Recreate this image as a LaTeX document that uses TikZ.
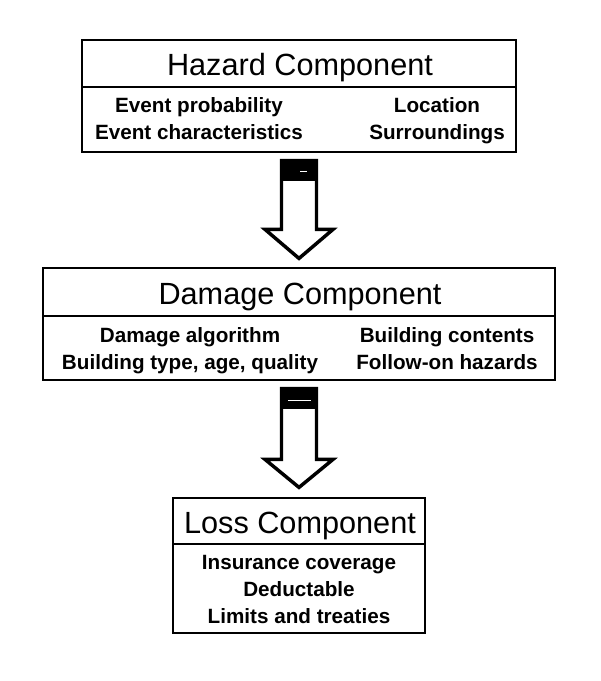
\documentclass[tikz,border=0pt]{standalone}
\usepackage{fontspec}
\setmainfont{Liberation Sans}
\usetikzlibrary{calc}
\tikzset{
  boxpart/.style={draw=black, line width=0.9pt, rectangle, inner sep=0pt, fill=white},
  titletext/.style={anchor=base, inner sep=0pt, font=\fontsize{23}{27}\selectfont},
  bodytext/.style={anchor=base, inner sep=0pt, font=\bfseries\fontsize{15.5}{18}\selectfont},
  hollowarrow/.style={draw=black, fill=white, line width=2.6pt, line join=miter},
  arrowcap/.style={fill=black}
}
\begin{document}
\begin{tikzpicture}[x=0.75pt, y=-0.75pt]
\useasboundingbox (0,0) rectangle (600,681);
\fill[white] (0,0) rectangle (600,681);

% Hazard component
\node[boxpart, minimum width=325.5pt, minimum height=35.25pt] (hazT) at (299,63.5) {};
\node[boxpart, minimum width=325.5pt, minimum height=48.75pt] (hazB) at (299,119.5) {};
\node[titletext] (hazTitle) at (300,76) {Hazard Component};
\node[bodytext] (haz1) at (199,112.5) {Event probability};
\node[bodytext] (haz2) at (199,140) {Event characteristics};
\node[bodytext] (haz3) at (437,112.5) {Location};
\node[bodytext] (haz4) at (437,140) {Surroundings};

% Damage component
\node[boxpart, minimum width=384pt, minimum height=36pt] (dmgT) at (299,292) {};
\node[boxpart, minimum width=384pt, minimum height=48pt] (dmgB) at (299,348) {};
\node[titletext] (dmgTitle) at (300,304) {Damage Component};
\node[bodytext] (dmg1) at (190,342) {Damage algorithm};
\node[bodytext] (dmg2) at (190,369) {Building type, age, quality};
\node[bodytext] (dmg3) at (447,342) {Building contents};
\node[bodytext] (dmg4) at (447,369) {Follow-on hazards};

% Loss component
\node[boxpart, minimum width=189pt, minimum height=34.5pt] (lossT) at (299,521) {};
\node[boxpart, minimum width=189pt, minimum height=66.75pt] (lossB) at (299,588.5) {};
\node[titletext] (lossTitle) at (300,533) {Loss Component};
\node[bodytext] (loss1) at (299,569) {Insurance coverage};
\node[bodytext] (loss2) at (299,596) {Deductable};
\node[bodytext] (loss3) at (299,623) {Limits and treaties};

% Arrow hazard -> damage
\draw[hollowarrow]
  ($(hazB.south)+(-17.5,8)$) -- ($(hazB.south)+(17.5,8)$)
  -- ($(dmgT.north)+(17.5,-38)$) -- ($(dmgT.north)+(34,-38)$)
  -- ($(dmgT.north)+(0,-9)$)
  -- ($(dmgT.north)+(-34,-38)$) -- ($(dmgT.north)+(-17.5,-38)$) -- cycle;
\fill[arrowcap] ($(hazB.south)+(-18.8,8)$) rectangle ($(hazB.south)+(18.8,28)$);
\draw[white, line width=1.2pt] ($(hazB.south)+(1,19)$) -- ($(hazB.south)+(8,19)$);

% Arrow damage -> loss
\draw[hollowarrow]
  ($(dmgB.south)+(-17.5,8)$) -- ($(dmgB.south)+(17.5,8)$)
  -- ($(lossT.north)+(17.5,-38)$) -- ($(lossT.north)+(34,-38)$)
  -- ($(lossT.north)+(0,-10)$)
  -- ($(lossT.north)+(-34,-38)$) -- ($(lossT.north)+(-17.5,-38)$) -- cycle;
\fill[arrowcap] ($(dmgB.south)+(-18.8,8)$) rectangle ($(dmgB.south)+(18.8,28)$);
\draw[white, line width=1.2pt] ($(dmgB.south)+(-11,20)$) -- ($(dmgB.south)+(12,20)$);
\end{tikzpicture}
\end{document}
